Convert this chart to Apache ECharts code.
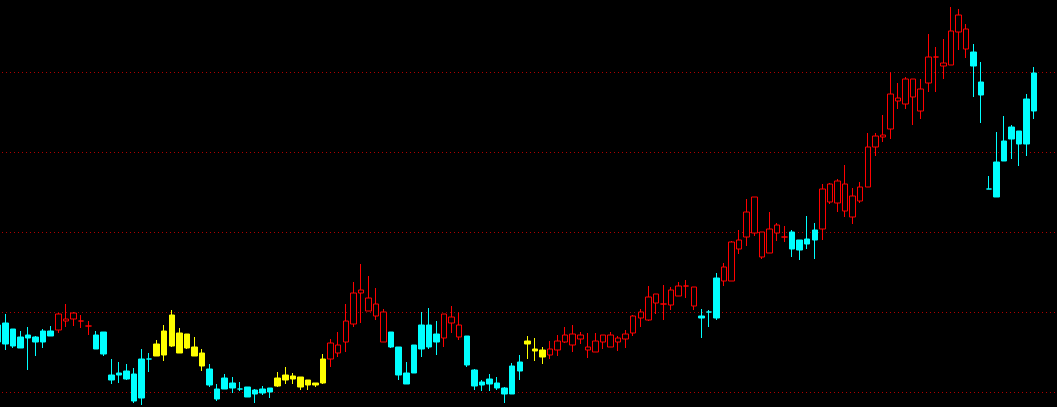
<!DOCTYPE html>
<html>
<head>
<meta charset="utf-8">
<script src="https://cdn.jsdelivr.net/npm/echarts@6/dist/echarts.min.js"></script>
<style>
html,body{margin:0;padding:0;background:#000;}
#chart{width:1057px;height:407px;}
</style>
</head>
<body>
<div id="chart"></div>
<script>
// colour class per candle: r = red hollow, c = cyan filled, y = yellow filled
const colorClass = "cccccccc" + "rrrrr" + "cccccccc" + "yyyyyyy" + "ccccccccc" + "yyyyyyy" + "rrrrrrrr" + "ccccccc" + "rrr" + "cccccccc" + "yyy" + "rrrrrrrrrrrrrrrrrrrr" + "ccc" + "rrrrrrrrr" + "cccc" + "rrrrrrrrrrrrrrrrrrrr" + "ccccccccc";
const opens  = [147,149,143,135,137,135,141,141,142,151,153,151,146,137,140,97,99,101,98,113,113,116,117,126,139,138,125,119,103,83,94,89,83,85,82,83,84,86,92,93,95,92,89,89,113,119,130,148,179,161,156,130,140,125,99,127,147,147,138,134,149,135,136,102,90,93,89,84,106,110,128,121,115,117,122,130,127,133,122,120,130,125,130,133,139,154,152,169,168,167,176,186,166,156,160,194,191,191,223,235,239,215,219,239,235,240,232,233,242,243,270,269,261,255,271,285,325,335,343,371,368,375,361,389,415,406,407,440,423,420,390,283,310,331,345,341,373,399];
const closes = [130,128,126,124,134,130,130,136,158,153,159,151,146,123,118,92,97,93,71,74,113,128,141,157,119,124,116,106,87,73,83,84,83,75,78,79,80,94,97,96,85,87,87,113,129,127,151,179,182,174,168,160,125,97,88,99,123,125,130,158,155,147,107,86,87,88,84,78,78,101,131,123,122,123,131,137,138,137,125,131,137,137,134,138,156,160,175,178,168,182,186,186,185,154,160,154,205,230,232,260,275,240,243,247,235,223,222,228,232,283,288,291,288,276,285,325,336,337,378,374,393,393,383,415,415,409,441,457,443,406,377,283,275,311,333,328,328,361];
const lows   = [127,122,124,124,102,116,124,136,139,145,146,144,137,123,116,88,89,92,69,67,100,116,111,125,119,123,116,101,85,71,83,79,81,75,69,77,74,85,88,88,82,82,85,88,105,115,120,145,149,161,152,130,124,92,88,99,115,123,117,125,139,132,105,82,81,81,82,69,78,92,113,111,108,113,116,129,120,128,114,120,123,125,121,124,136,145,151,158,152,162,176,174,162,134,145,152,186,191,218,226,236,213,219,231,230,215,212,223,213,232,268,260,255,248,269,285,316,330,333,363,363,347,353,380,380,393,407,422,414,375,349,283,275,311,313,306,316,353];
const highs  = [150,158,143,141,145,136,143,146,159,168,160,157,151,141,140,113,110,108,104,123,119,132,147,162,144,138,135,123,108,88,98,95,90,85,83,86,84,100,105,99,95,92,89,118,133,140,168,190,208,196,184,163,140,125,110,127,160,164,151,158,166,160,136,103,92,98,95,85,109,117,136,134,125,131,137,145,147,140,139,139,137,140,136,142,157,163,186,178,187,185,190,192,185,163,162,199,209,231,242,273,275,240,260,249,246,242,232,256,249,288,289,293,307,284,290,339,339,357,400,389,395,393,393,438,425,433,465,463,448,428,410,296,340,356,347,341,378,405];
const emptySlots = 3; // blank periods to the right of the last candle

const palette = {
  r: {color:'#000000', color0:'#000000', borderColor:'#ff0000', borderColor0:'#ff0000'},
  c: {color:'#00ffff', color0:'#00ffff', borderColor:'#00ffff', borderColor0:'#00ffff'},
  y: {color:'#ffff00', color0:'#ffff00', borderColor:'#ffff00', borderColor0:'#ffff00'}
};
const total = opens.length + emptySlots;
const categories = Array.from({length: total}, (_, i) => String(i + 1));
const data = opens.map((o, i) => ({
  value: [o, closes[i], lows[i], highs[i]],
  itemStyle: palette[colorClass[i] || 'c']
}));
const band = 7.565;

const chart = echarts.init(document.getElementById('chart'), null, {renderer:'canvas'});
chart.setOption({
  backgroundColor: '#000000',
  animation: false,
  grid: {left: -6, width: band * total, top: -8, height: 480, containLabel: false, outerBoundsMode: 'none'},
  xAxis: {
    type: 'category', data: categories, boundaryGap: true,
    axisLine: {show:false}, axisTick: {show:false}, axisLabel: {show:false}, splitLine: {show:false}
  },
  yAxis: {
    type: 'value', min: 0, max: 480, interval: 80, scale: false,
    axisLine: {show:false}, axisTick: {show:false}, axisLabel: {show:false},
    splitLine: {show: true, lineStyle: {color: '#b00000', type: [1, 3], width: 1}}
  },
  series: [{
    type: 'candlestick',
    barWidth: 6,
    data: data,
    itemStyle: {borderWidth: 1}
  }]
});
</script>
</body>
</html>
